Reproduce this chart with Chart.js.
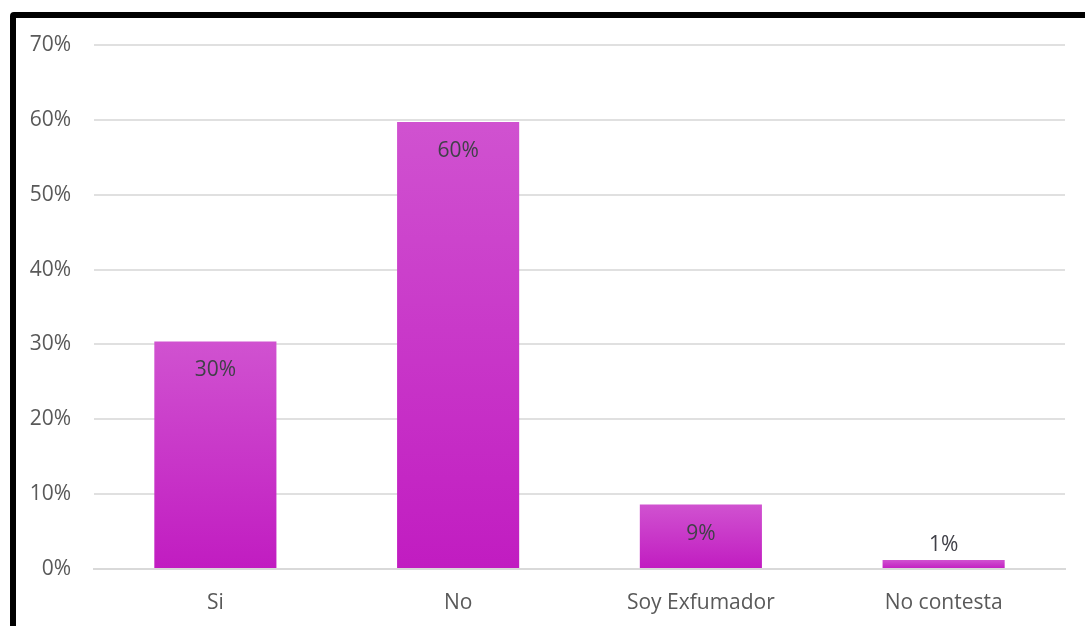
<!DOCTYPE html>
<html>
<head>
<meta charset="utf-8">
<script src="https://cdn.jsdelivr.net/npm/chart.js@4/dist/chart.umd.min.js"></script>
<style>
  html, body { margin: 0; padding: 0; background: #fff; }
  #wrap { position: relative; width: 1085px; height: 626px; overflow: hidden; }
  #frame {
    position: absolute; left: 10px; top: 12px;
    width: 1200px; height: 800px;
    border: 6px solid #000; border-radius: 4px;
    pointer-events: none;
  }
  canvas { position: absolute; left: 0; top: 0; }
</style>
</head>
<body>
<div id="wrap">
  <canvas id="chart" width="1085" height="626"></canvas>
  <div id="frame"></div>
</div>
<script>
// categorías y porcentajes de la encuesta
const categorias = ['Si', 'No', 'Soy Exfumador', 'No contesta'];
const porcentajes = [30.4, 59.7, 8.6, 1.2];
const ticksY = [0, 10, 20, 30, 40, 50, 60, 70];

const fuente = "'Open Sans', 'Noto Sans', sans-serif";

// degradado vertical para cada barra, de arriba (claro) a la base
function colorBarra(ctx) {
    const chart = ctx.chart;
    const y = chart.scales.y;
    if (!chart.chartArea || !y || ctx.parsed === undefined) return '#c828c8';
    const top = y.getPixelForValue(ctx.parsed.y);
    const base = y.getPixelForValue(0);
    if (!isFinite(top) || base - top < 1) return '#c828c8';
    const g = chart.ctx.createLinearGradient(0, top, 0, base);
    g.addColorStop(0, '#d052d0');
    g.addColorStop(1, '#c11cc1');
    return g;
}

// etiquetas de valor: dentro del extremo superior o encima si la barra es baja
const etiquetas = {
    id: 'etiquetas',
    afterDatasetsDraw(chart) {
        const c = chart.ctx;
        const meta = chart.getDatasetMeta(0);
        c.save();
        c.font = '21px ' + fuente;
        c.fillStyle = '#404048';
        c.textAlign = 'center';
        c.textBaseline = 'middle';
        meta.data.forEach((bar, i) => {
            const texto = Math.round(porcentajes[i]) + '%';
            const alto = bar.base - bar.y;
            const yTexto = alto > 40 ? bar.y + 29 : bar.y - 15;
            c.fillText(texto, bar.x, yTexto);
        });
        c.restore();
    }
};

new Chart(document.getElementById('chart'), {
    type: 'bar',
    data: {
        labels: categorias,
        datasets: [{
            data: porcentajes,
            backgroundColor: colorBarra,
            borderWidth: 0,
            categoryPercentage: 1,
            barPercentage: 0.503
        }]
    },
    options: {
        responsive: false,
        animation: false,
        layout: { padding: { top: 45, right: 20, left: 0, bottom: 0 } },
        plugins: {
            legend: { display: false },
            tooltip: { enabled: false }
        },
        scales: {
            x: {
                grid: { display: false, drawTicks: false },
                border: { display: true, color: '#d9d9d9', width: 2 },
                ticks: { color: '#595959', font: { family: fuente, size: 21 }, padding: 21 },
                afterFit(s) { s.height = 57; }
            },
            y: {
                min: 0,
                max: 70,
                afterBuildTicks(s) { s.ticks = ticksY.map(v => ({ value: v })); },
                grid: { color: '#e0e0e0', lineWidth: 2, drawTicks: false },
                border: { display: false },
                ticks: {
                    color: '#595959',
                    font: { family: fuente, size: 21 },
                    padding: 23,
                    callback: v => v + '%'
                },
                afterFit(s) { s.width = 94; }
            }
        }
    },
    plugins: [etiquetas]
});
</script>
</body>
</html>
